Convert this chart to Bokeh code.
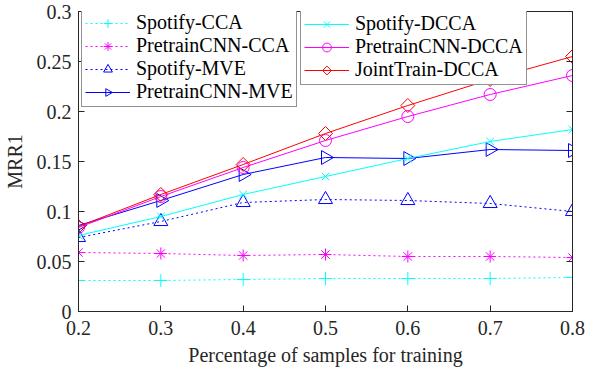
import math
from bokeh.plotting import figure
from bokeh.models import (Range1d, FixedTicker, LinearAxis, Legend, LegendItem,
                          ColumnDataSource, CustomLabelingPolicy, Ngon)
from bokeh.embed import file_html
from bokeh.resources import INLINE

x = [0.2, 0.3, 0.4, 0.5, 0.6, 0.7, 0.8]
spotify_cca = [0.031, 0.031, 0.032, 0.033, 0.033, 0.033, 0.034]
pretrain_cca = [0.059, 0.058, 0.056, 0.057, 0.055, 0.055, 0.054]
spotify_mve = [0.074, 0.090, 0.109, 0.112, 0.111, 0.108, 0.100]
pretrain_mve = [0.086, 0.111, 0.137, 0.154, 0.153, 0.162, 0.161]
spotify_dcca = [0.076, 0.095, 0.117, 0.135, 0.153, 0.170, 0.182]
pretrain_dcca = [0.084, 0.115, 0.144, 0.171, 0.195, 0.217, 0.236]
joint_dcca = [0.085, 0.117, 0.147, 0.178, 0.206, 0.232, 0.255]

x_ticks = [0.2, 0.3, 0.4, 0.5, 0.6, 0.7, 0.8]
x_tick_labels = ["0.2", "0.3", "0.4", "0.5", "0.6", "0.7", "0.8"]
y_ticks = [0, 0.05, 0.1, 0.15, 0.2, 0.25, 0.3]
y_tick_labels = ["0", "0.05", "0.1", "0.15", "0.2", "0.25", "0.3"]

FONT = "Liberation Serif"
TXT = "#262626"
FRAME_H = 301

p = figure(width=596, height=369, output_backend="svg", toolbar_location=None,
           x_range=Range1d(0.2, 0.8), y_range=Range1d(0, 0.3),
           min_border_left=68, min_border_right=13, min_border_top=10, min_border_bottom=58)
p.xgrid.visible = False
p.ygrid.visible = False
p.outline_line_color = TXT
p.outline_line_width = 1

hide_labels = CustomLabelingPolicy(code="""
for (const i of Array.from(indices)) { indices.unset(i) }
return indices
""")

def style_axis(ax, ticks, labels=None):
    ax.ticker = FixedTicker(ticks=ticks)
    ax.major_tick_in = 6
    ax.major_tick_out = 0
    ax.minor_tick_line_color = None
    ax.axis_line_color = TXT
    ax.major_tick_line_color = TXT
    if labels is not None:
        ax.major_label_overrides = {t: l for t, l in zip(ticks, labels)}
        ax.major_label_text_font = FONT
        ax.major_label_text_font_size = "20px"
        ax.major_label_text_color = TXT
        ax.axis_label_text_font = FONT
        ax.axis_label_text_font_size = "20px"
        ax.axis_label_text_font_style = "normal"
        ax.axis_label_text_color = TXT
    else:
        ax.major_label_policy = hide_labels
        ax.major_label_standoff = 0

style_axis(p.xaxis[0], x_ticks, x_tick_labels)
style_axis(p.yaxis[0], y_ticks, y_tick_labels)
p.xaxis[0].axis_label = "Percentage of samples for training"
p.yaxis[0].axis_label = "MRR1"
p.xaxis[0].major_label_standoff = 9
p.xaxis[0].axis_label_standoff = 6
p.yaxis[0].major_label_standoff = 7
p.yaxis[0].axis_label_standoff = 8

ax_top = LinearAxis()
style_axis(ax_top, x_ticks)
p.add_layout(ax_top, "above")
ax_right = LinearAxis()
style_axis(ax_right, y_ticks)
p.add_layout(ax_right, "right")

# (name, values, colour, marker, dash, ngon (sides, angle) or None, size)
series = [
    ("Spotify-CCA", spotify_cca, "#00FFFF", "cross", "2 3", None, 13),
    ("PretrainCNN-CCA", pretrain_cca, "#FF00FF", "asterisk", "2 3", None, 12),
    ("Spotify-MVE", spotify_mve, "#0000FF", "triangle", "2 3", None, 14),
    ("PretrainCNN-MVE", pretrain_mve, "#0000FF", "ngon", "solid", (3, -math.pi / 2), 8),
    ("Spotify-DCCA", spotify_dcca, "#00FFFF", "x", "solid", None, 11),
    ("PretrainCNN-DCCA", pretrain_dcca, "#FF00FF", "circle", "solid", None, 12),
    ("JointTrain-DCCA", joint_dcca, "#FF0000", "ngon", "solid", (4, 0.0), 7),
]

items = []
for name, ys, color, marker, dash, ng, sz in series:
    src = ColumnDataSource(dict(x=x, y=ys))
    ln = p.line("x", "y", source=src, line_color=color, line_width=1, line_dash=dash)
    if marker == "ngon":
        g = Ngon(x="x", y="y", radius=sz, radius_units="screen", n=ng[0], angle=ng[1],
                 line_color=color, fill_color=None, line_width=1)
        sc = p.add_glyph(src, g)
    else:
        sc = p.scatter("x", "y", source=src, marker=marker, size=sz,
                       line_color=color, fill_color=None, line_width=1)
    items.append(LegendItem(label=name, renderers=[ln, sc]))

def make_legend(its, loc):
    lg = Legend(items=its, location=loc)
    lg.label_text_font = FONT
    lg.label_text_font_size = "20px"
    lg.label_text_color = "#000000"
    lg.glyph_width = 45
    lg.glyph_height = 22
    lg.label_height = 22
    lg.label_standoff = 6
    lg.spacing = 0
    lg.padding = 3
    lg.margin = 0
    lg.border_line_color = TXT
    lg.border_line_width = 1
    lg.background_fill_color = "white"
    lg.background_fill_alpha = 1.0
    return lg

p.add_layout(make_legend(items[:4], (3, FRAME_H - 3 - 94)))
p.add_layout(make_legend(items[4:], (222, FRAME_H - 3 - 72)))

open("out.html", "w").write(file_html(p, INLINE))
